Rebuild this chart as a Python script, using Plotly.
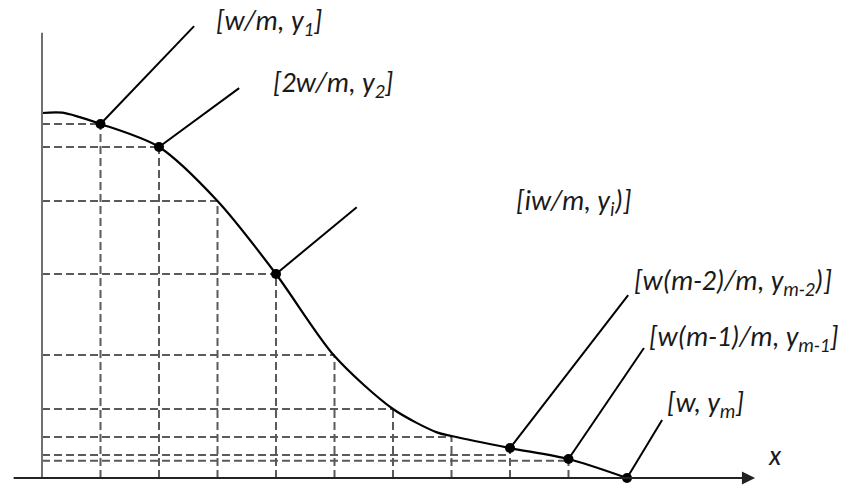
import plotly.graph_objects as go

# ---- data (x in units of w/m, y in arbitrary units) ----
sample_i = [0, 1, 2, 3, 4, 5, 6, 7, 8, 9, 10]
sample_y = [10.0, 9.70, 9.07, 7.59, 5.59, 3.34, 1.89, 1.15, 0.82, 0.52, 0.0]
# extra points (near the top-left shoulder and the lower knee)
curve_i = [0, 0.35, 1, 2, 3, 4, 5, 6, 6.75, 7, 8, 9, 10]
curve_y = [10.0, 10.01, 9.70, 9.07, 7.59, 5.59, 3.34, 1.89, 1.25, 1.15, 0.82, 0.52, 0.0]
# horizontal dashed levels as drawn in the figure (i = 1..9)
grid_levels = [9.70, 9.07, 7.59, 5.59, 3.37, 1.89, 1.12, 0.63, 0.47]
marked_i = [1, 2, 4, 8, 9, 10]
label_texts = [
    "[w/m, y<sub>1</sub>]",
    "[2w/m, y<sub>2</sub>]",
    "[iw/m, y<sub>i</sub>)]",
    "[w(m-2)/m, y<sub>m-2</sub>)]",
    "[w(m-1)/m, y<sub>m-1</sub>]",
    "[w, y<sub>m</sub>]",
]

# ---- layout constants ----
leader_end = [(2.60, 12.38), (3.37, 10.68), (5.38, 7.42), (10.02, 5.01), (10.29, 3.56), (10.60, 1.59)]
label_pos = [(2.94, 12.50), (3.91, 10.80), (8.07, 7.55), (10.09, 5.36), (10.34, 3.84), (10.65, 2.04)]
FONT = "Carlito, Lato, 'Open Sans', sans-serif"
FSIZE = 28
TXT_C = "#1a1a1a"
GRID_C = "#5a5a5a"

fig = go.Figure()
shapes = []

# dashed grid
for k, i in enumerate(sample_i[1:10]):
    lvl = grid_levels[k]
    shapes.append(dict(type="line", x0=0, x1=i, y0=lvl, y1=lvl, xref="x", yref="y",
                       line=dict(color=GRID_C, width=2, dash="8px,4px"), layer="below"))
    shapes.append(dict(type="line", x0=i, x1=i, y0=0, y1=sample_y[i], xref="x", yref="y",
                       line=dict(color=GRID_C, width=2, dash="8px,4px"), layer="below"))

# y axis line
shapes.append(dict(type="line", x0=0, x1=0, y0=0, y1=12.2, xref="x", yref="y",
                   line=dict(color="#707070", width=2)))

# leader lines
for i, (ex, ey) in zip(marked_i, leader_end):
    shapes.append(dict(type="line", x0=i, y0=sample_y[i], x1=ex, y1=ey, xref="x", yref="y",
                       line=dict(color="black", width=2)))

# curve
fig.add_trace(go.Scatter(x=curve_i, y=curve_y, mode="lines",
                         line=dict(color="black", width=2.2, shape="spline", smoothing=0.8),
                         hoverinfo="skip", showlegend=False))
# dots
fig.add_trace(go.Scatter(x=marked_i, y=[sample_y[i] for i in marked_i], mode="markers",
                         marker=dict(color="black", size=10), hoverinfo="skip", showlegend=False))

annotations = []
# x axis with arrow
annotations.append(dict(x=12.19, y=0, ax=-0.51, ay=0, xref="x", yref="y", axref="x", ayref="y",
                        showarrow=True, arrowhead=2, arrowsize=1.2, arrowwidth=2.2,
                        arrowcolor="#222222", text=""))
for (tx, ty), t in zip(label_pos, label_texts):
    annotations.append(dict(x=tx, y=ty, xref="x", yref="y", text=t, showarrow=False,
                            xanchor="left", yanchor="middle",
                            font=dict(family=FONT, size=FSIZE, color=TXT_C, style="italic")))
annotations.append(dict(x=12.53, y=0.63, xref="x", yref="y", text="x", showarrow=False,
                        xanchor="center", yanchor="middle",
                        font=dict(family=FONT, size=FSIZE, color=TXT_C, style="italic")))

fig.update_layout(
    width=859, height=485, margin=dict(l=0, r=0, t=0, b=0),
    paper_bgcolor="white", plot_bgcolor="white",
    xaxis=dict(range=[-42 / 58.5, (859 - 42) / 58.5], visible=False, fixedrange=True),
    yaxis=dict(range=[-7 / 36.5, 478 / 36.5], visible=False, fixedrange=True),
    shapes=shapes, annotations=annotations, showlegend=False,
)

fig.write_html("out.html")
